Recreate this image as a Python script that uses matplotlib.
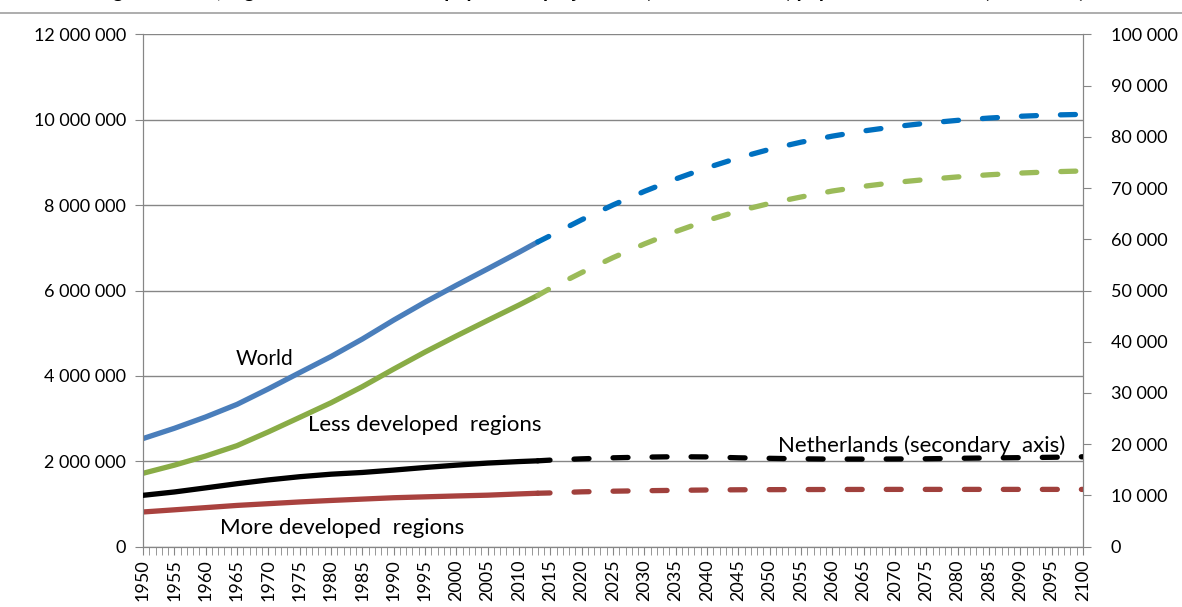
import matplotlib
matplotlib.use("Agg")
import matplotlib.pyplot as plt
from matplotlib.ticker import FuncFormatter, MultipleLocator

plt.rcParams['font.family'] = ['Lato', 'DejaVu Sans']
plt.rcParams['lines.scale_dashes'] = False

# population in thousands (UN medium variant)
years_hist = [1950, 1955, 1960, 1965, 1970, 1975, 1980, 1985, 1990, 1995, 2000, 2005, 2010, 2013]
years_proj = [2013, 2015, 2020, 2025, 2030, 2035, 2040, 2045, 2050, 2055, 2060, 2065, 2070,
              2075, 2080, 2085, 2090, 2095, 2100]

world_hist = [2532229, 2772882, 3038413, 3333007, 3696186, 4076419, 4453007, 4863290,
              5306425, 5726239, 6122770, 6506649, 6895889, 7137000]
world_proj = [7137000, 7284296, 7656528, 8002978, 8321380, 8611867, 8874041, 9106022,
              9306128, 9473393, 9615189, 9736307, 9836935, 9918813, 9985055, 10038206,
              10080525, 10109396, 10124926]

less_hist = [1719066, 1909300, 2123300, 2366200, 2688600, 3028400, 3370100, 3748600,
             4159900, 4558500, 4934500, 5300000, 5659900, 5885000]
less_proj = [5885000, 6050000, 6420000, 6770000, 7090000, 7380000, 7640000, 7860000,
             8040000, 8190000, 8330000, 8440000, 8530000, 8600000, 8660000, 8710000,
             8750000, 8780000, 8800000]

more_hist = [812989, 863600, 915100, 966800, 1007600, 1048000, 1082900, 1114700,
             1146500, 1167800, 1188200, 1206700, 1235900, 1252000]
more_proj = [1252000, 1259000, 1285000, 1300000, 1311000, 1320000, 1328000, 1333000,
             1336000, 1338000, 1340000, 1341000, 1342000, 1342000, 1342000, 1342000,
             1342000, 1342000, 1342000]

nl_hist = [10027, 10680, 11480, 12295, 13032, 13660, 14150, 14488, 14952, 15459, 15915,
           16320, 16615, 16760]
nl_proj = [16760, 16900, 17150, 17350, 17480, 17560, 17520, 17350, 17250, 17150, 17100,
           17100, 17120, 17160, 17250, 17320, 17380, 17450, 17550]

fig = plt.figure(figsize=(11.82, 6.07), dpi=100)
ax = fig.add_axes([143 / 1182, 1 - 546.7 / 607, 940 / 1182, 512.4 / 607])
ax2 = ax.twinx()

# dashes in points (scale_dashes off), Excel style long round dashes
dash = (2, (10.8, 17.3))
lw = 3.8

ax.plot(years_hist, world_hist, color='#4A7EBB', lw=lw, solid_capstyle='round', zorder=3)
ax.plot(years_proj, world_proj, color='#0070C0', lw=lw, linestyle=dash, dash_capstyle='round', zorder=3)
ax.plot(years_hist, less_hist, color='#89AC46', lw=lw, solid_capstyle='round', zorder=3)
ax.plot(years_proj, less_proj, color='#9BBB59', lw=lw, linestyle=dash, dash_capstyle='round', zorder=3)
ax.plot(years_hist, more_hist, color='#A9423F', lw=lw, solid_capstyle='round', zorder=3)
ax.plot(years_proj, more_proj, color='#A0403C', lw=lw, linestyle=dash, dash_capstyle='round', zorder=3)
ax2.plot(years_hist, nl_hist, color='black', lw=lw, solid_capstyle='round', zorder=3)
ax2.plot(years_proj, nl_proj, color='black', lw=lw, linestyle=dash, dash_capstyle='round', zorder=3)

grey = '#868686'
ax.set_xlim(1950, 2100)
ax.set_ylim(0, 12000000)
ax2.set_ylim(0, 100000)
ax.yaxis.set_major_locator(MultipleLocator(2000000))
ax2.yaxis.set_major_locator(MultipleLocator(10000))
ax.xaxis.set_major_locator(MultipleLocator(5))
ax.xaxis.set_minor_locator(MultipleLocator(1))

fmt = FuncFormatter(lambda v, p: f"{int(round(v)):,}".replace(",", " "))
ax.yaxis.set_major_formatter(fmt)
ax2.yaxis.set_major_formatter(fmt)
ax.xaxis.set_major_formatter(FuncFormatter(lambda v, p: f"{int(round(v))}"))

ax.grid(axis='y', color=grey, lw=1)
ax.set_axisbelow(True)
for a in (ax, ax2):
    for s in a.spines.values():
        s.set_color(grey)
    a.spines['top'].set_visible(False)
ax.tick_params(axis='both', which='both', colors=grey, labelcolor='black', labelsize=13, direction='out')
ax.tick_params(axis='y', length=6, pad=6)
ax.tick_params(axis='x', which='major', length=6, pad=3, labelrotation=90)
ax.tick_params(axis='x', which='minor', length=6)
ax2.tick_params(axis='y', colors=grey, labelcolor='black', labelsize=13, length=6, pad=14, direction='out')

ax.text(1969.4, 4255000, "World", fontsize=15, ha='center', va='baseline')
ax.text(1976.4, 2717000, "Less developed  regions", fontsize=16, ha='left', va='baseline')
ax.text(1962.3, 290000, "More developed  regions", fontsize=16, ha='left', va='baseline')
ax2.text(2051.3, 18540, "Netherlands (secondary  axis)", fontsize=16, ha='left', va='baseline')

# title sits above the visible area, only descenders show
fig.text(0.5, 1 + 2 / 607, "Figure: World, regions and Netherlands population projections (medium variant) population estimates (thousands)",
         ha='center', va='baseline', fontsize=14, fontweight='bold')
fig.add_artist(plt.Line2D([0, 1], [1 - 13 / 607, 1 - 13 / 607], color='#A0A0A0', lw=1.2))

fig.savefig("out.png", dpi=100)
